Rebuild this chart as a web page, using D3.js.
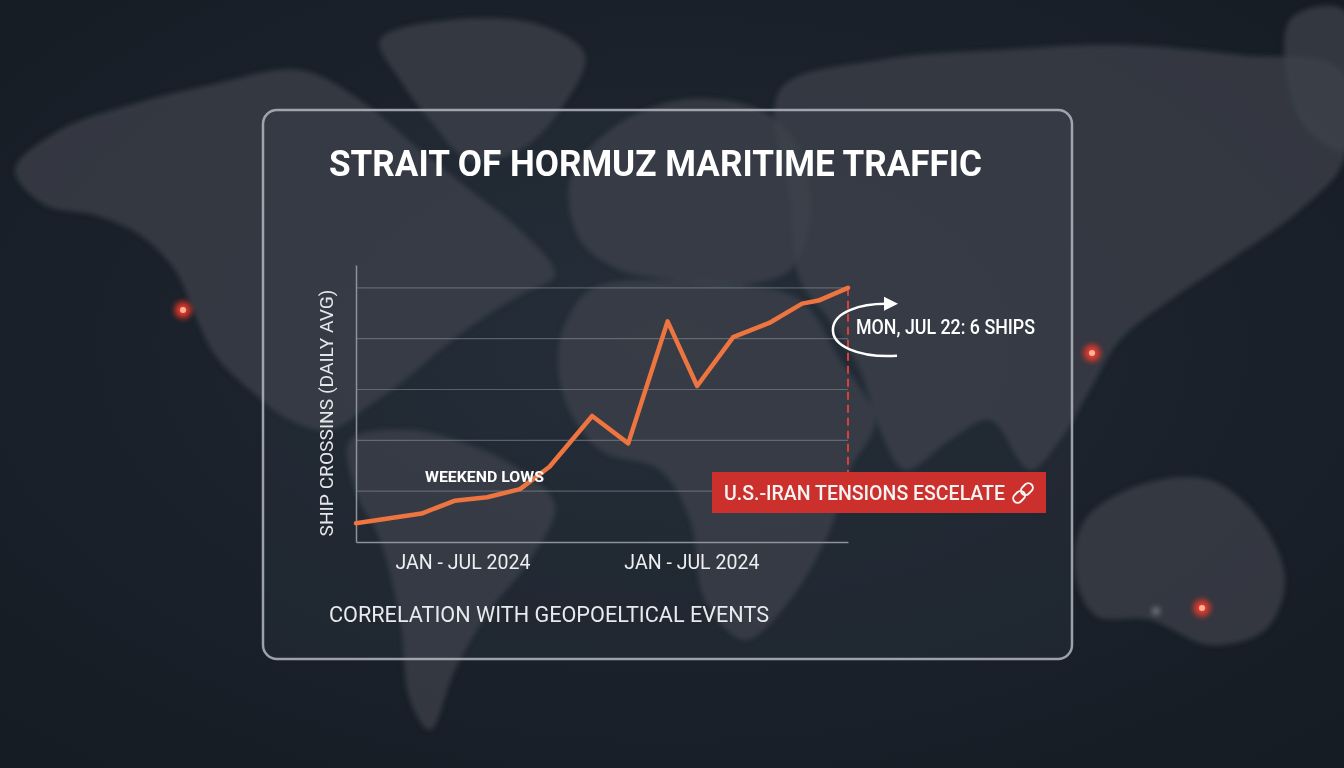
<!DOCTYPE html>
<html>
<head>
<meta charset="utf-8">
<script src="https://cdn.jsdelivr.net/npm/d3@7"></script>
<style>
  html, body { margin: 0; padding: 0; background: #1a212b; overflow: hidden; }
  text { font-family: Roboto, "Liberation Sans", sans-serif; }
</style>
</head>
<body>
<script>
// width and height
var w = 1344;
var h = 768;

// data (position along the period, daily average ship crossings)
var weekPos = [0, 2, 3, 4, 5, 5.9, 7.2, 8.3, 9.5, 10.4, 11.5, 12.6, 13.6, 14.1, 15];
var crossings = [1.37, 1.56, 1.81, 1.88, 2.04, 2.48, 3.48, 2.94, 5.34, 4.07, 5.03, 5.31, 5.69, 5.75, 6.0];
var gridValues = [2, 3, 4, 5, 6];
var periodLabels = ["JAN - JUL 2024", "JAN - JUL 2024"];
var periodPos = [3.26, 10.24];
var eventPos = 15;   // U.S.-Iran tensions marker
var lastLabel = "MON, JUL 22: 6 SHIPS";

var dataset = weekPos.map(function(d, i) { return [d, crossings[i]]; });

var svg = d3.select("body")
    .append("svg")
    .attr("width", w)
    .attr("height", h);

var defs = svg.append("defs");
defs.append("filter").attr("id", "soft")
    .attr("x", "-10%").attr("y", "-10%").attr("width", "120%").attr("height", "120%")
    .append("feGaussianBlur").attr("stdDeviation", 2.5);
defs.append("filter").attr("id", "glow")
    .attr("x", "-100%").attr("y", "-100%").attr("width", "300%").attr("height", "300%")
    .append("feGaussianBlur").attr("stdDeviation", 3);

var bg = defs.append("radialGradient").attr("id", "bggrad")
    .attr("cx", "50%").attr("cy", "45%").attr("r", "70%");
bg.append("stop").attr("offset", "0%").attr("stop-color", "#202833");
bg.append("stop").attr("offset", "100%").attr("stop-color", "#161c24");

svg.append("rect").attr("width", w).attr("height", h).attr("fill", "url(#bggrad)");

// rough outlines of the background map (decoration only)
var land = [
    // north america
    [[15,170],[60,130],[130,105],[210,85],[300,70],[360,100],[420,150],[470,190],[520,230],[555,275],[520,295],[480,320],[440,350],[405,380],[370,405],[330,430],[290,420],[250,390],[215,355],[195,315],[175,270],[140,235],[95,215],[45,205]],
    // greenland
    [[380,40],[450,20],[540,25],[585,55],[560,110],[520,150],[470,160],[430,120],[400,80]],
    // south america
    [[350,440],[410,430],[470,445],[520,470],[555,505],[530,560],[490,610],[455,670],[430,730],[410,700],[400,620],[380,540],[355,490]],
    // europe
    [[570,180],[610,130],[680,100],[760,110],[800,150],[810,220],[790,270],[740,285],[680,280],[620,270],[580,240]],
    // africa
    [[590,290],[660,280],[740,285],[800,300],[840,360],[875,420],[850,470],[830,530],[790,600],[745,640],[705,600],[690,520],[660,470],[600,450],[565,400],[560,340]],
    // asia
    [[780,90],[880,60],[1000,50],[1120,45],[1240,55],[1340,70],[1344,160],[1300,210],[1230,260],[1170,300],[1120,340],[1090,390],[1060,440],[1030,470],[990,420],[950,440],[905,470],[880,430],[860,370],[830,320],[800,280],[790,200]],
    // australia
    [[1085,520],[1140,485],[1210,480],[1260,520],[1285,580],[1265,630],[1210,645],[1150,620],[1095,615],[1075,570]],
    // far right top
    [[1290,20],[1344,10],[1344,150],[1300,120]]
];
var landPath = d3.line().curve(d3.curveCatmullRomClosed.alpha(0.5));
svg.append("g").attr("filter", "url(#soft)")
    .selectAll("path")
    .data(land)
    .enter()
    .append("path")
    .attr("d", landPath)
    .attr("fill", "#3c424a")
    .attr("opacity", 0.75);

// red city glows
var glows = [[183, 310], [1092, 353], [1202, 608]];
var glowG = svg.append("g");
glowG.selectAll("circle.halo")
    .data(glows)
    .enter()
    .append("circle")
    .attr("cx", function(d) { return d[0]; })
    .attr("cy", function(d) { return d[1]; })
    .attr("r", 8)
    .attr("fill", "#ff3b2a")
    .attr("opacity", 0.95)
    .attr("filter", "url(#glow)");
glowG.selectAll("circle.core")
    .data(glows)
    .enter()
    .append("circle")
    .attr("cx", function(d) { return d[0]; })
    .attr("cy", function(d) { return d[1]; })
    .attr("r", 3)
    .attr("fill", "#ffb49a");
svg.append("circle").attr("cx", 1156).attr("cy", 611).attr("r", 2.5).attr("fill", "#d8dce2").attr("filter", "url(#glow)");

// panel
svg.append("rect")
    .attr("x", 263).attr("y", 110)
    .attr("width", 809).attr("height", 549)
    .attr("rx", 14)
    .attr("fill", "rgba(60,70,84,0.18)")
    .attr("stroke", "#b4b9c0")
    .attr("stroke-opacity", 0.85)
    .attr("stroke-width", 2.5);

svg.append("text")
    .attr("x", 329).attr("y", 176)
    .attr("fill", "#ffffff")
    .attr("font-size", 36)
    .attr("font-weight", 700)
    .attr("textLength", 653)
    .attr("lengthAdjust", "spacingAndGlyphs")
    .text("STRAIT OF HORMUZ MARITIME TRAFFIC");

// scales
var xScale = d3.scaleLinear().domain([0, 15]).range([356, 848]);
var yScale = d3.scaleLinear().domain([1, 6.45]).range([542, 265]);

// gridlines
svg.append("g")
    .selectAll("line")
    .data(gridValues)
    .enter()
    .append("line")
    .attr("x1", xScale(0)).attr("x2", xScale(15))
    .attr("y1", function(d) { return yScale(d); })
    .attr("y2", function(d) { return yScale(d); })
    .attr("stroke", "#9aa1aa")
    .attr("stroke-opacity", 0.45)
    .attr("stroke-width", 1.2);

// axes (no ticks)
var xAxis = d3.axisBottom(xScale).tickValues([]).tickSizeOuter(0);
var yAxis = d3.axisLeft(yScale).tickValues([]).tickSizeOuter(0);

svg.append("g")
    .attr("class", "x axis")
    .attr("transform", "translate(0," + yScale(1) + ")")
    .call(xAxis)
    .select(".domain").attr("stroke", "#8c939c").attr("stroke-width", 1.5);

svg.append("g")
    .attr("class", "y axis")
    .attr("transform", "translate(" + xScale(0) + ",0)")
    .call(yAxis)
    .select(".domain").attr("stroke", "#8c939c").attr("stroke-width", 1.5);

// y label
svg.append("text")
    .attr("transform", "translate(333,413) rotate(-90)")
    .attr("text-anchor", "middle")
    .attr("fill", "#e4e6e9")
    .attr("font-size", 18)
    .attr("textLength", 247)
    .attr("lengthAdjust", "spacingAndGlyphs")
    .text("SHIP CROSSINS (DAILY AVG)");

// period labels
svg.selectAll("text.period")
    .data(periodLabels)
    .enter()
    .append("text")
    .attr("class", "period")
    .attr("x", function(d, i) { return xScale(periodPos[i]); })
    .attr("y", 569)
    .attr("text-anchor", "middle")
    .attr("fill", "#eceef0")
    .attr("font-size", 20)
    .attr("textLength", 135)
    .attr("lengthAdjust", "spacingAndGlyphs")
    .text(function(d) { return d; });

// event marker
svg.append("line")
    .attr("x1", xScale(eventPos)).attr("x2", xScale(eventPos))
    .attr("y1", yScale(crossings[crossings.length - 1]))
    .attr("y2", 472)
    .attr("stroke", "#d8413a")
    .attr("stroke-width", 2)
    .attr("stroke-dasharray", "8,5");

// the line
var line = d3.line()
    .x(function(d) { return xScale(d[0]); })
    .y(function(d) { return yScale(d[1]); });

svg.append("path")
    .datum(dataset)
    .attr("d", line)
    .attr("fill", "none")
    .attr("stroke", "#ee7440")
    .attr("stroke-width", 4.5)
    .attr("stroke-linejoin", "round")
    .attr("stroke-linecap", "round");

svg.append("text")
    .attr("x", 425).attr("y", 482)
    .attr("fill", "#ffffff")
    .attr("font-size", 15)
    .attr("font-weight", 700)
    .attr("textLength", 119)
    .attr("lengthAdjust", "spacingAndGlyphs")
    .text("WEEKEND LOWS");

// callout arrow round the last point
var ex = xScale(weekPos[weekPos.length - 1]);
var ey = yScale(crossings[crossings.length - 1]);
svg.append("path")
    .attr("d", "M" + (ex + 49) + "," + (ey + 68) +
        " C" + (ex + 10) + "," + (ey + 70) + " " + (ex - 17) + "," + (ey + 58) + " " + (ex - 15) + "," + (ey + 40) +
        " C" + (ex - 13) + "," + (ey + 24) + " " + (ex + 12) + "," + (ey + 16) + " " + (ex + 38) + "," + (ey + 16))
    .attr("fill", "none")
    .attr("stroke", "#ffffff")
    .attr("stroke-width", 2.5);
svg.append("path")
    .attr("d", "M" + (ex + 36) + "," + (ey + 9) + " L" + (ex + 50) + "," + (ey + 16) + " L" + (ex + 36) + "," + (ey + 23) + "Z")
    .attr("fill", "#ffffff");

svg.append("text")
    .attr("x", ex + 8).attr("y", ey + 46)
    .attr("fill", "#ffffff")
    .attr("font-size", 20)
    .attr("font-weight", 500)
    .attr("textLength", 179)
    .attr("lengthAdjust", "spacingAndGlyphs")
    .text(lastLabel);

// event box
svg.append("rect")
    .attr("x", 712).attr("y", 472)
    .attr("width", 334).attr("height", 41)
    .attr("fill", "#cc302c");
svg.append("text")
    .attr("x", 724).attr("y", 500)
    .attr("fill", "#f4f4f4")
    .attr("font-size", 21)
    .attr("font-weight", 500)
    .attr("textLength", 281)
    .attr("lengthAdjust", "spacingAndGlyphs")
    .text("U.S.-IRAN TENSIONS ESCELATE");

// chain link icon
var chain = svg.append("g").attr("transform", "translate(1023,493) rotate(-45)");
chain.append("rect").attr("x", -12).attr("y", -4.5).attr("width", 13).attr("height", 9).attr("rx", 4.5)
    .attr("fill", "none").attr("stroke", "#f4f4f4").attr("stroke-width", 2);
chain.append("rect").attr("x", -1).attr("y", -4.5).attr("width", 13).attr("height", 9).attr("rx", 4.5)
    .attr("fill", "none").attr("stroke", "#f4f4f4").attr("stroke-width", 2);

// footer
svg.append("text")
    .attr("x", 329).attr("y", 622)
    .attr("fill", "#e8eaed")
    .attr("font-size", 22)
    .attr("textLength", 440)
    .attr("lengthAdjust", "spacingAndGlyphs")
    .text("CORRELATION WITH GEOPOELTICAL EVENTS");
</script>
</body>
</html>
